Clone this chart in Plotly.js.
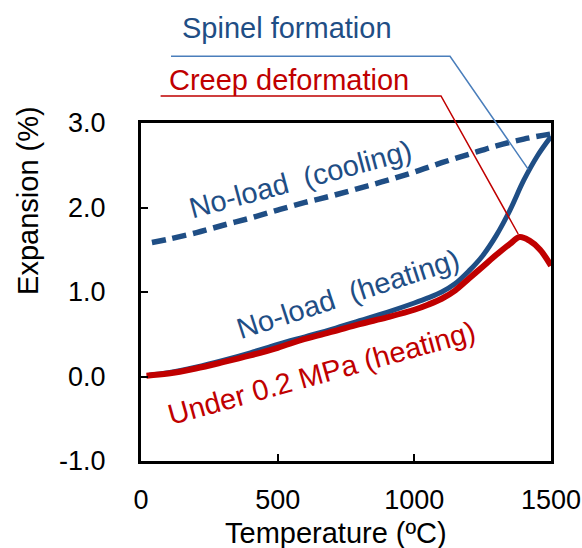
<!DOCTYPE html>
<html>
<head>
<meta charset="utf-8">
<script src="https://cdn.plot.ly/plotly-3.0.1.min.js"></script>
<style>html,body{margin:0;padding:0;background:#fff;}#chart{width:582px;height:548px;}</style>
</head>
<body>
<div id="chart"></div>
<script>
// Cooling curve (no load)
const coolT = [40, 100, 200, 300, 400, 500, 600, 700, 800, 900, 1000, 1100, 1200, 1300, 1400, 1500];
const coolV = [1.585, 1.625, 1.70, 1.79, 1.875, 1.97, 2.06, 2.14, 2.23, 2.32, 2.42, 2.53, 2.63, 2.73, 2.81, 2.87];
// Heating curve (no load)
const heatT = [30, 100, 200, 300, 400, 500, 600, 700, 800, 900, 1000, 1050, 1100, 1150, 1200, 1250, 1300, 1350, 1400, 1450, 1500];
const heatV = [0.015, 0.045, 0.11, 0.19, 0.28, 0.38, 0.47, 0.56, 0.66, 0.76, 0.87, 0.93, 1.00, 1.10, 1.25, 1.43, 1.67, 1.97, 2.32, 2.61, 2.84];
// Heating under 0.2 MPa
const loadT = [20, 100, 200, 300, 400, 500, 600, 700, 800, 900, 1000, 1050, 1100, 1150, 1200, 1250, 1300, 1350, 1385, 1420, 1460, 1500];
const loadV = [0.01, 0.035, 0.095, 0.17, 0.25, 0.34, 0.445, 0.53, 0.62, 0.70, 0.79, 0.85, 0.92, 1.02, 1.16, 1.30, 1.44, 1.57, 1.65, 1.61, 1.50, 1.31];

const xTicks = [0, 500, 1000, 1500];
const yTicks = [-1, 0, 1, 2, 3];
const yTickText = ['-1.0', '0.0', '1.0', '2.0', '3.0'];

const BLUE = '#1f4e85';
const RED = '#c00000';
const FONT = 'Arial, "Liberation Sans", sans-serif';

const traces = [
  {x: coolT, y: coolV, mode: 'lines', line: {color: BLUE, width: 5.5, dash: '14px,7px', shape: 'spline'}, hoverinfo: 'skip'},
  {x: heatT, y: heatV, mode: 'lines', line: {color: BLUE, width: 5, shape: 'spline'}, hoverinfo: 'skip'},
  {x: loadT, y: loadV, mode: 'lines', line: {color: RED, width: 6, shape: 'spline'}, hoverinfo: 'skip'}
];

const layout = {
  width: 582, height: 548,
  margin: {l: 141, r: 31, t: 123, b: 87, pad: 0},
  paper_bgcolor: '#fff', plot_bgcolor: '#fff',
  showlegend: false,
  font: {family: FONT, size: 27, color: '#000'},
  xaxis: {
    range: [0, 1500], tickvals: xTicks, ticktext: xTicks.map(String),
    showline: true, mirror: true, linewidth: 3, linecolor: '#000',
    ticks: 'inside', ticklen: 7, tickwidth: 2, tickcolor: '#000',
    showgrid: false, zeroline: false, ticklabelstandoff: 13,
    tickfont: {family: FONT, size: 27, color: '#000'}
  },
  yaxis: {
    range: [-1, 3], tickvals: yTicks, ticktext: yTickText,
    showline: true, mirror: true, linewidth: 3, linecolor: '#000',
    ticks: 'inside', ticklen: 7, tickwidth: 2, tickcolor: '#000',
    showgrid: false, zeroline: false, ticklabelstandoff: 27,
    tickfont: {family: FONT, size: 27, color: '#000'}
  },
  shapes: [
    {type: 'path', xref: 'paper', yref: 'paper', path: 'M 0.0732 1.1975 L 0.7537 1.1975 L 0.9446 0.863', line: {color: '#4a7ebb', width: 1.5}},
    {type: 'path', xref: 'paper', yref: 'paper', path: 'M 0.0478 1.0799 L 0.7317 1.0799 L 0.920 0.6716', line: {color: RED, width: 1.5}}
  ],
  annotations: [
    {xref: 'paper', yref: 'paper', x: 0.3573, y: 1.281, text: 'Spinel formation', showarrow: false, xanchor: 'center', yanchor: 'middle', font: {family: FONT, size: 29, color: BLUE}},
    {xref: 'paper', yref: 'paper', x: 0.3598, y: 1.127, text: 'Creep deformation', showarrow: false, xanchor: 'center', yanchor: 'middle', font: {family: FONT, size: 29, color: RED}},
    {xref: 'paper', yref: 'paper', x: 0.390, y: 0.834, text: 'No-load&nbsp;&nbsp;(cooling)', textangle: -15, showarrow: false, xanchor: 'center', yanchor: 'middle', font: {family: FONT, size: 29, color: BLUE}},
    {xref: 'paper', yref: 'paper', x: 0.505, y: 0.494, text: 'No-load&nbsp;&nbsp;(heating)', textangle: -18, showarrow: false, xanchor: 'center', yanchor: 'middle', font: {family: FONT, size: 29, color: BLUE}},
    {xref: 'paper', yref: 'paper', x: 0.441, y: 0.259, text: 'Under 0.2 MPa (heating)', textangle: -15.5, showarrow: false, xanchor: 'center', yanchor: 'middle', font: {family: FONT, size: 29, color: RED}},
    {xref: 'paper', yref: 'paper', x: 0.476, y: -0.213, text: 'Temperature (ºC)', showarrow: false, xanchor: 'center', yanchor: 'middle', font: {family: FONT, size: 29, color: '#000'}},
    {xref: 'paper', yref: 'paper', x: -0.276, y: 0.772, text: 'Expansion (%)', textangle: -90, showarrow: false, xanchor: 'center', yanchor: 'middle', font: {family: FONT, size: 29, color: '#000'}}
  ]
};

Plotly.newPlot('chart', traces, layout, {displayModeBar: false, staticPlot: true});
</script>
</body>
</html>
